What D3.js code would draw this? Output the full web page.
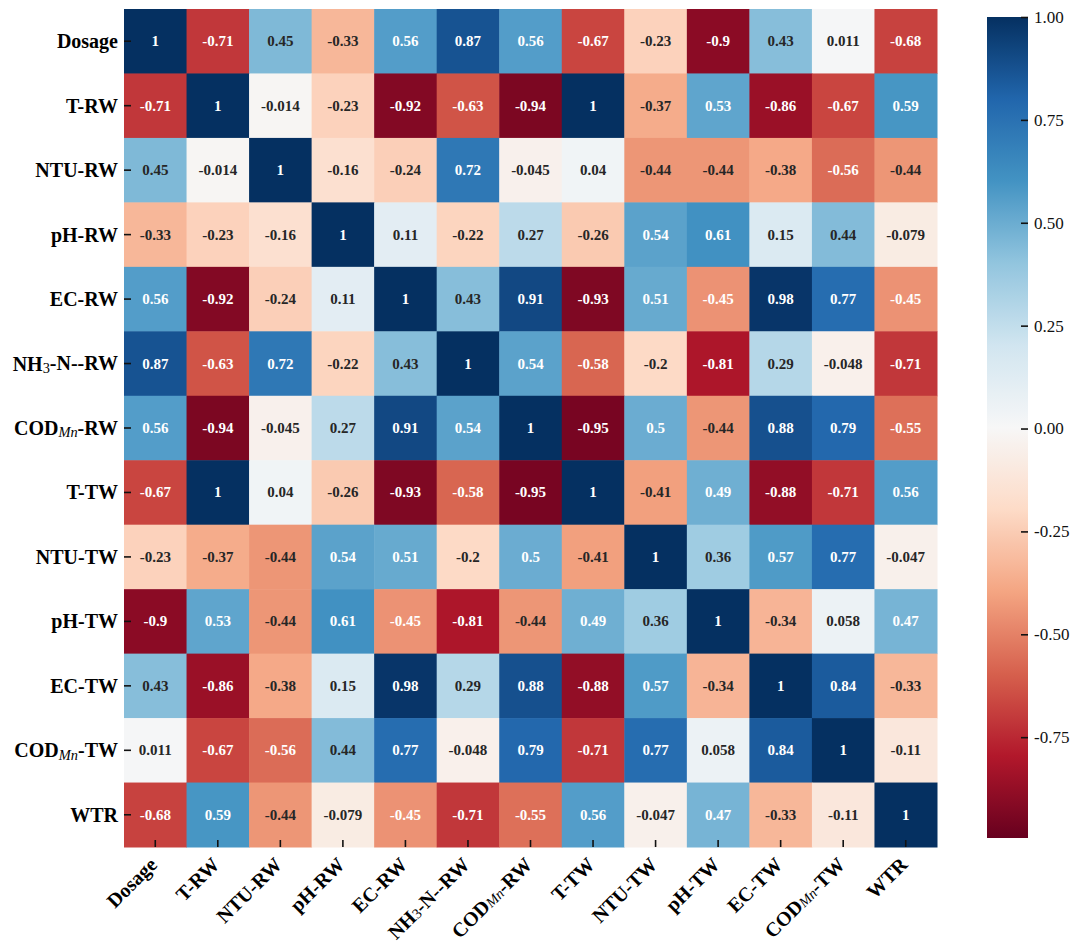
<!DOCTYPE html>
<html>
<head>
<meta charset="utf-8">
<script src="https://cdn.jsdelivr.net/npm/d3@7"></script>
<style>
  body { margin: 0; background: #fff; }
  svg { display: block; }
</style>
</head>
<body>
<svg id="chart" width="1080" height="952"></svg>
<script>
// variables, same order for rows and columns
const variables = ["Dosage", "T-RW", "NTU-RW", "pH-RW", "EC-RW", "NH3-N--RW", "CODMn-RW",
                   "T-TW", "NTU-TW", "pH-TW", "EC-TW", "CODMn-TW", "WTR"];

// correlation matrix, one array per row
const row_dosage = [1, -0.71, 0.45, -0.33, 0.56, 0.87, 0.56, -0.67, -0.23, -0.9, 0.43, 0.011, -0.68];
const row_t_rw   = [-0.71, 1, -0.014, -0.23, -0.92, -0.63, -0.94, 1, -0.37, 0.53, -0.86, -0.67, 0.59];
const row_ntu_rw = [0.45, -0.014, 1, -0.16, -0.24, 0.72, -0.045, 0.04, -0.44, -0.44, -0.38, -0.56, -0.44];
const row_ph_rw  = [-0.33, -0.23, -0.16, 1, 0.11, -0.22, 0.27, -0.26, 0.54, 0.61, 0.15, 0.44, -0.079];
const row_ec_rw  = [0.56, -0.92, -0.24, 0.11, 1, 0.43, 0.91, -0.93, 0.51, -0.45, 0.98, 0.77, -0.45];
const row_nh3_rw = [0.87, -0.63, 0.72, -0.22, 0.43, 1, 0.54, -0.58, -0.2, -0.81, 0.29, -0.048, -0.71];
const row_cod_rw = [0.56, -0.94, -0.045, 0.27, 0.91, 0.54, 1, -0.95, 0.5, -0.44, 0.88, 0.79, -0.55];
const row_t_tw   = [-0.67, 1, 0.04, -0.26, -0.93, -0.58, -0.95, 1, -0.41, 0.49, -0.88, -0.71, 0.56];
const row_ntu_tw = [-0.23, -0.37, -0.44, 0.54, 0.51, -0.2, 0.5, -0.41, 1, 0.36, 0.57, 0.77, -0.047];
const row_ph_tw  = [-0.9, 0.53, -0.44, 0.61, -0.45, -0.81, -0.44, 0.49, 0.36, 1, -0.34, 0.058, 0.47];
const row_ec_tw  = [0.43, -0.86, -0.38, 0.15, 0.98, 0.29, 0.88, -0.88, 0.57, -0.34, 1, 0.84, -0.33];
const row_cod_tw = [0.011, -0.67, -0.56, 0.44, 0.77, -0.048, 0.79, -0.71, 0.77, 0.058, 0.84, 1, -0.11];
const row_wtr    = [-0.68, 0.59, -0.44, -0.079, -0.45, -0.71, -0.55, 0.56, -0.047, 0.47, -0.33, -0.11, 1];

const rows = [row_dosage, row_t_rw, row_ntu_rw, row_ph_rw, row_ec_rw, row_nh3_rw, row_cod_rw,
              row_t_tw, row_ntu_tw, row_ph_tw, row_ec_tw, row_cod_tw, row_wtr];

// colour bar range and ticks
const color_min = -0.995;
const color_max = 1;
const cbar_ticks = [-0.75, -0.5, -0.25, 0, 0.25, 0.5, 0.75, 1];

// RdBu anchors, interpolated linearly like matplotlib does
const rdbu = ["#67001f", "#b2182b", "#d6604d", "#f4a582", "#fddbc7", "#f7f7f7",
              "#d1e5f0", "#92c5de", "#4393c3", "#2166ac", "#053061"];

// cells inside this range are light enough for dark text
const light_range = [-0.445, 0.465];

const serif = "'Liberation Serif', 'Times New Roman', serif";
const locale = d3.formatLocale({decimal: ".", thousands: ",", grouping: [3], currency: ["", ""], minus: "-"});

const svg = d3.select("#chart");

const grid = {left: 124, top: 9, width: 813, height: 838};

let x = d3.scaleBand().domain(variables).range([grid.left, grid.left + grid.width]);
let y = d3.scaleBand().domain(variables).range([grid.top, grid.top + grid.height]);
let color = d3.scaleSequential(d3.piecewise(d3.interpolateRgb, rdbu)).domain([color_min, color_max]);

let cells = [];
rows.forEach((r, i) => r.forEach((v, j) => cells.push({row: variables[i], col: variables[j], value: v})));

function text_color(v) {
    return (v > light_range[0] && v < light_range[1]) ? "#262626" : "#ffffff";
}

let heat = svg.append("g");

heat.selectAll("rect").data(cells).join("rect")
    .attr("x", d => x(d.col))
    .attr("y", d => y(d.row))
    .attr("width", x.bandwidth() + 0.5)
    .attr("height", y.bandwidth() + 0.5)
    .attr("fill", d => color(d.value));

heat.append("g").selectAll("text").data(cells).join("text")
    .attr("x", d => x(d.col) + x.bandwidth() / 2)
    .attr("y", d => y(d.row) + y.bandwidth() / 2)
    .attr("text-anchor", "middle")
    .attr("dominant-baseline", "central")
    .style("font-family", serif)
    .style("font-weight", "bold")
    .style("font-size", "15px")
    .attr("fill", d => text_color(d.value))
    .text(d => String(d.value));

// ticks point into the cells
svg.append("g")
    .attr("transform", "translate(" + grid.left + ",0)")
    .call(d3.axisLeft(y).tickSizeInner(-7).tickSizeOuter(0).tickFormat(""))
    .call(g => g.select(".domain").remove())
    .call(g => g.selectAll("line").attr("stroke", "#111").attr("stroke-width", 1.6));

svg.append("g")
    .attr("transform", "translate(0," + (grid.top + grid.height) + ")")
    .call(d3.axisBottom(x).tickSizeInner(-7).tickSizeOuter(0).tickFormat(""))
    .call(g => g.select(".domain").remove())
    .call(g => g.selectAll("line").attr("stroke", "#111").attr("stroke-width", 1.6));

// labels with subscripts (NH3, CODMn)
function rich_label(sel, name) {
    let parts;
    if (name.startsWith("NH3")) {
        parts = [["NH", false], ["3", "sub"], [name.slice(3), false]];
    } else if (name.startsWith("CODMn")) {
        parts = [["COD", false], ["Mn", "subi"], [name.slice(5), false]];
    } else {
        parts = [[name, false]];
    }
    parts.forEach(p => {
        let t = sel.append("tspan").text(p[0]);
        if (p[1]) {
            t.attr("dy", "0.3em")
                .style("font-size", "72%")
                .style("font-weight", "normal");
            if (p[1] === "subi") t.style("font-style", "italic");
        } else if (sel.selectAll("tspan").size() > 1) {
            t.attr("dy", "-0.22em");
        }
    });
}

svg.append("g").selectAll("text").data(variables).join("text")
    .attr("x", grid.left - 6)
    .attr("y", d => y(d) + y.bandwidth() / 2)
    .attr("text-anchor", "end")
    .attr("dominant-baseline", "central")
    .style("font-family", serif)
    .style("font-weight", "bold")
    .style("font-size", "20px")
    .attr("fill", "#000")
    .each(function(d) { rich_label(d3.select(this), d); });

svg.append("g").selectAll("text").data(variables).join("text")
    .attr("transform", d => "translate(" + (x(d) + x.bandwidth() / 2 - 7) + "," + (grid.top + grid.height + 9) + ") rotate(-45)")
    .attr("text-anchor", "end")
    .attr("dominant-baseline", "hanging")
    .style("font-family", serif)
    .style("font-weight", "bold")
    .style("font-size", "20px")
    .attr("fill", "#000")
    .each(function(d) { rich_label(d3.select(this), d); });

// colour bar
const cbar = {x: 987, top: 17, bottom: 838, width: 41};
let cy = d3.scaleLinear().domain([color_min, color_max]).range([cbar.bottom, cbar.top]);

let grad = svg.append("defs").append("linearGradient")
    .attr("id", "cbar_grad")
    .attr("x1", 0).attr("y1", 1).attr("x2", 0).attr("y2", 0);
grad.selectAll("stop").data(d3.range(0, 1.0001, 0.02)).join("stop")
    .attr("offset", d => d)
    .attr("stop-color", d => color(color_min + d * (color_max - color_min)));

svg.append("rect")
    .attr("x", cbar.x)
    .attr("y", cbar.top)
    .attr("width", cbar.width)
    .attr("height", cbar.bottom - cbar.top)
    .attr("fill", "url(#cbar_grad)");

svg.append("g")
    .attr("transform", "translate(" + (cbar.x + cbar.width) + ",0)")
    .call(d3.axisRight(cy).tickValues(cbar_ticks).tickSizeInner(-7).tickSizeOuter(0).tickPadding(6)
        .tickFormat(locale.format(".2f")))
    .call(g => g.select(".domain").remove())
    .call(g => g.selectAll("line").attr("stroke", "#111").attr("stroke-width", 1.6))
    .call(g => g.selectAll("text")
        .style("font-family", serif)
        .style("font-size", "17px")
        .attr("fill", "#111"));
</script>
</body>
</html>
